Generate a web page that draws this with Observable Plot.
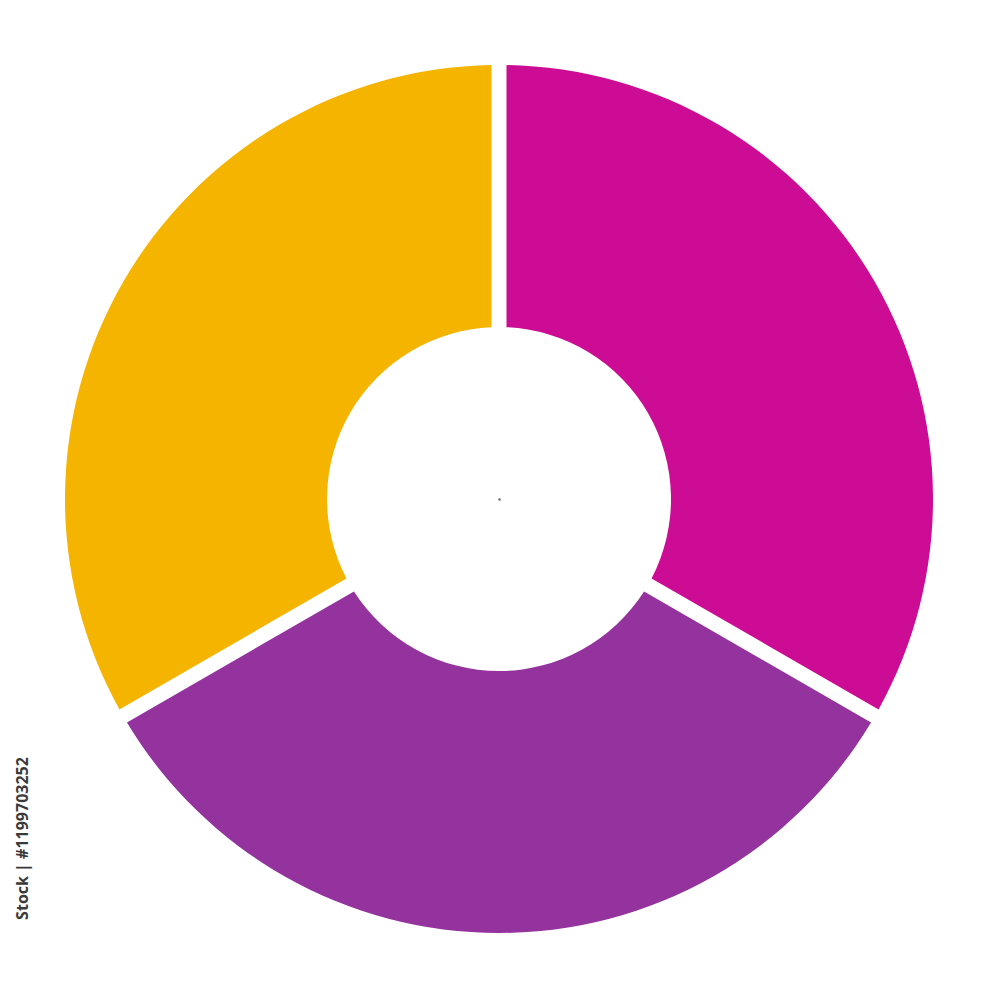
<!DOCTYPE html>
<html>
<head>
<meta charset="utf-8">
<script src="https://cdn.jsdelivr.net/npm/d3@7"></script>
<script src="https://cdn.jsdelivr.net/npm/@observablehq/plot@0.6"></script>
<style>
  html, body { margin: 0; padding: 0; background: #fff; }
  #chart svg { display: block; }
</style>
</head>
<body>
<div id="chart"></div>
<script>
const categories = ["Segment 1", "Segment 2", "Segment 3"];
const values = [1, 1, 1];
const colors = ["#CC0C94", "#94329E", "#F4B400"];
const stockLabel = "Stock | #1199703252";

const outerR = 434;
const innerR = 172;
const gap = 15;

const data = categories.map((c, i) => ({category: c, value: values[i]}));

function donutMark(index, scales, vals, dimensions) {
  const sx = scales.x, sy = scales.y;
  const cx = sx(0), cy = sy(0);
  const ro = sx(outerR) - sx(0);
  const ri = sx(innerR) - sx(0);
  const color = scales.color || Plot.scale({color: {domain: categories, range: colors}});
  const colorOf = c => (typeof color === "function" ? color(c) : color.apply(c));
  const pie = d3.pie().sort(null).value(d => d.value)(data);
  const padR = Math.sqrt(ro * ro + ri * ri);
  const arc = d3.arc().innerRadius(ri).outerRadius(ro).padRadius(padR).padAngle(gap / padR);
  const g = d3.create("svg:g").attr("transform", `translate(${cx},${cy})`);
  g.selectAll("path").data(pie).join("path")
    .attr("d", arc)
    .attr("fill", d => colorOf(d.data.category));
  return g.node();
}

const chart = Plot.plot({
  width: 1000,
  height: 1000,
  margin: 0,
  x: {domain: [-499, 501], range: [0, 1000], axis: null},
  y: {domain: [-501, 499], range: [1000, 0], axis: null},
  color: {domain: categories, range: colors},
  marks: [
    Plot.dot(data, {x: () => 0, y: () => 0, fill: "category", r: 0}),
    donutMark,
    Plot.dot([0], {x: () => 0, y: () => 0, r: 1.2, fill: "#666"}),
    Plot.text([stockLabel], {
      x: () => -477, y: () => -339, text: d => d, rotate: -90,
      fontSize: 16, fontWeight: "bold", fill: "#3a3a3a",
      fontFamily: "Open Sans, sans-serif"
    })
  ]
});
document.getElementById("chart").appendChild(chart);
</script>
</body>
</html>
